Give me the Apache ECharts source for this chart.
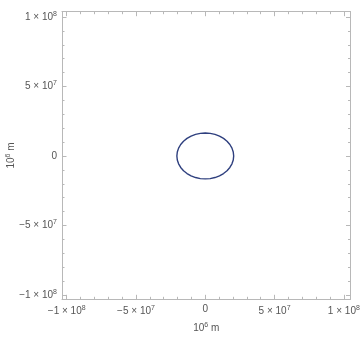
<!DOCTYPE html>
<html><head><meta charset="utf-8">
<script src="https://cdn.jsdelivr.net/npm/echarts@6/dist/echarts.min.js"></script>
<style>html,body{margin:0;padding:0;background:#fff}#c{width:361px;height:340px}</style>
</head><body><div id="c"></div>
<script>
// Orbit points, in units of 10^6 m
const orbitX = [20.5,20.19,19.26,17.75,15.70,13.18,10.25,7.01,3.56,0,
  -3.56,-7.01,-10.25,-13.18,-15.70,-17.75,-19.26,-20.19,-20.5,
  -20.19,-19.26,-17.75,-15.70,-13.18,-10.25,-7.01,-3.56,0,
  3.56,7.01,10.25,13.18,15.70,17.75,19.26,20.19,20.5];
const orbitY = [0,2.87,5.64,8.25,10.61,12.64,14.29,15.50,16.25,16.5,
  16.25,15.50,14.29,12.64,10.61,8.25,5.64,2.87,0,
  -2.87,-5.64,-8.25,-10.61,-12.64,-14.29,-15.50,-16.25,-16.5,
  -16.25,-15.50,-14.29,-12.64,-10.61,-8.25,-5.64,-2.87,0];
const majorTicks = [-1e8,-5e7,0,5e7,1e8];
const tickLabels = ['{m|\u22121 \u00d7 10}{s|8}','{m|\u22125 \u00d7 10}{s|7}','{m|0}','{m|5 \u00d7 10}{s|7}','{m|1 \u00d7 10}{s|8}'];
const minorTicks = [-9e7,-8e7,-7e7,-6e7,-4e7,-3e7,-2e7,-1e7,1e7,2e7,3e7,4e7,6e7,7e7,8e7,9e7];
const axisTitle = '{m|10}{s|6}{m| m}';

const FONT = '"Liberation Sans", Arial, sans-serif';
const rich = {
  m:{fontFamily:FONT,fontSize:10,color:'#555'},
  s:{fontFamily:FONT,fontSize:7,color:'#555',verticalAlign:'bottom',padding:[0,0,6,0]}
};
const frameColor = '#b8b8b8';
function fmt(v){const i=majorTicks.indexOf(v);return i>=0?tickLabels[i]:'';}

function mkAxis(dim, pos, ticks, len, withLabel, withLine, min, max){
  const a = {
    type:'value', position:pos, min:min, max:max,
    axisLine:{show:withLine,onZero:false,lineStyle:{color:frameColor,width:1}},
    axisTick:{show:true,inside:true,length:len,customValues:ticks,lineStyle:{color:frameColor,width:1}},
    axisLabel:{show:withLabel,customValues:majorTicks,formatter:fmt,rich:rich,margin:5},
    splitLine:{show:false}
  };
  if(withLabel){
    a.name = axisTitle;
    a.nameLocation='middle';
    a.nameMoveOverlap=false;
    a.nameTextStyle={rich:rich};
    a.nameGap = dim==='x'?22:44;
  }
  return a;
}
const xMin=-1.034e8,xMax=1.048e8,yMin=-1.031e8,yMax=1.038e8;
const option = {
  animation:false,
  grid:{left:62,right:10.5,top:11.7,bottom:40.7,containLabel:false,outerBoundsMode:'none'},
  xAxis:[
    mkAxis('x','bottom',majorTicks,4.5,true,true,xMin,xMax),
    mkAxis('x','bottom',minorTicks,2.5,false,false,xMin,xMax),
    mkAxis('x','top',majorTicks,4.5,false,true,xMin,xMax),
    mkAxis('x','top',minorTicks,2.5,false,false,xMin,xMax)
  ],
  yAxis:[
    mkAxis('y','left',majorTicks,4.5,true,true,yMin,yMax),
    mkAxis('y','left',minorTicks,2.5,false,false,yMin,yMax),
    mkAxis('y','right',majorTicks,4.5,false,true,yMin,yMax),
    mkAxis('y','right',minorTicks,2.5,false,false,yMin,yMax)
  ],
  series:[{
    type:'line', xAxisIndex:0, yAxisIndex:0, showSymbol:false, smooth:false,
    lineStyle:{color:'#2e3f7e',width:1.4},
    data: orbitX.map((x,i)=>[x*1e6, orbitY[i]*1e6])
  }]
};
const chart = echarts.init(document.getElementById('c'),null,{renderer:'canvas'});
chart.setOption(option);
</script></body></html>
